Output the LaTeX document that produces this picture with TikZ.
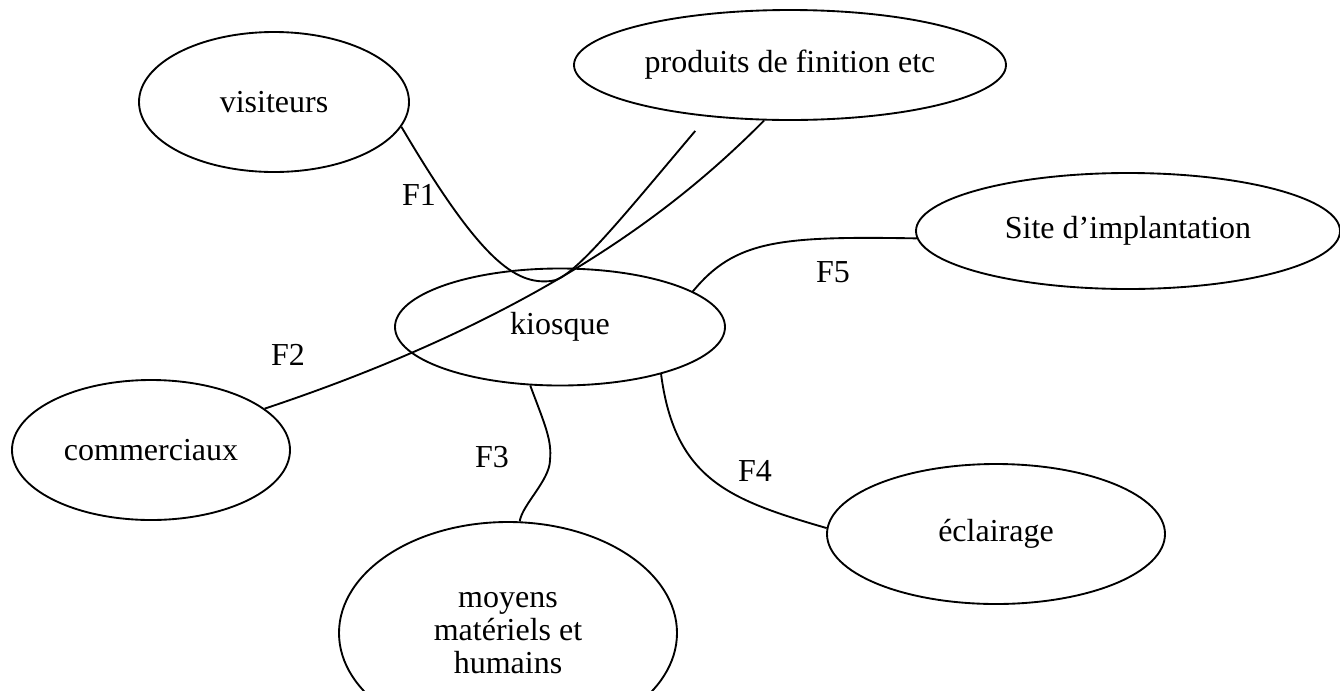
\documentclass[tikz,border=0pt]{standalone}
\usepackage{fontspec}
\setmainfont{Liberation Serif}
\usetikzlibrary{shapes.geometric}

\begin{document}
\begin{tikzpicture}[x=0.75pt,y=0.75pt,yscale=-1,xscale=1,
  bulle/.style={draw, ellipse, line width=1.4pt, inner sep=0pt, align=center, font=\fontsize{24}{24.75}\selectfont},
  fonction/.style={inner sep=0.75pt, font=\fontsize{24}{24.75}\selectfont},
  lien/.style={line width=1.4pt}]
%set diagram left start at 0, and has height of 690
\useasboundingbox (0,0) rectangle (1340,690);

%Shape: Ellipse [visiteurs]
\node [bulle, minimum width=202.5pt, minimum height=105pt] (visiteurs) at (274,102) {visiteurs};
%Shape: Ellipse [produits]
\node [bulle, minimum width=324pt, minimum height=82.5pt] (produits) at (790,65) {produits de finition etc};
%Shape: Ellipse [site]
\node [bulle, minimum width=318pt, minimum height=87pt] (site) at (1128,231) {Site d'implantation};
%Shape: Ellipse [kiosque]
\node [bulle, minimum width=247.5pt, minimum height=87.75pt] (kiosque) at (560,327) {kiosque};
%Shape: Ellipse [commerciaux]
\node [bulle, minimum width=208.5pt, minimum height=105pt] (commerciaux) at (151,450) {commerciaux};
%Shape: Ellipse [moyens]
\node [bulle, minimum width=253.5pt, minimum height=166.5pt] (moyens) at (508,633) {moyens\\matériels et\\humains};
%Shape: Ellipse [eclairage]
\node [bulle, minimum width=253.5pt, minimum height=105pt] (eclairage) at (996,534) {éclairage};

%Curve Lines [F1]
\draw [lien, shorten >=14pt] (visiteurs.-11) .. controls (480,260) and (515,285) .. (551,281) .. controls (572,280) and (620,220) .. (produits.-148);
%Curve Lines [F2]
\draw [lien] (produits.-115) .. controls (690,195) and (555,312) .. (commerciaux.20);
%Curve Lines [F3]
\draw [lien] (kiosque.-117) .. controls (545,425) and (552,440) .. (550,460) .. controls (550,480) and (522,505) .. (moyens.84);
%Curve Lines [F4]
\draw [lien] (kiosque.-25) .. controls (675,480) and (730,500) .. (eclairage.178);
%Curve Lines [F5]
\draw [lien] (kiosque.15) .. controls (735,240) and (780,236) .. (site.182);

% Text Node
\node [fonction] (f1) at (419,195) {F1};
% Text Node
\node [fonction] (f2) at (288,355) {F2};
% Text Node
\node [fonction] (f3) at (492,457) {F3};
% Text Node
\node [fonction] (f4) at (755,471) {F4};
% Text Node
\node [fonction] (f5) at (833,272) {F5};

\end{tikzpicture}
\end{document}
